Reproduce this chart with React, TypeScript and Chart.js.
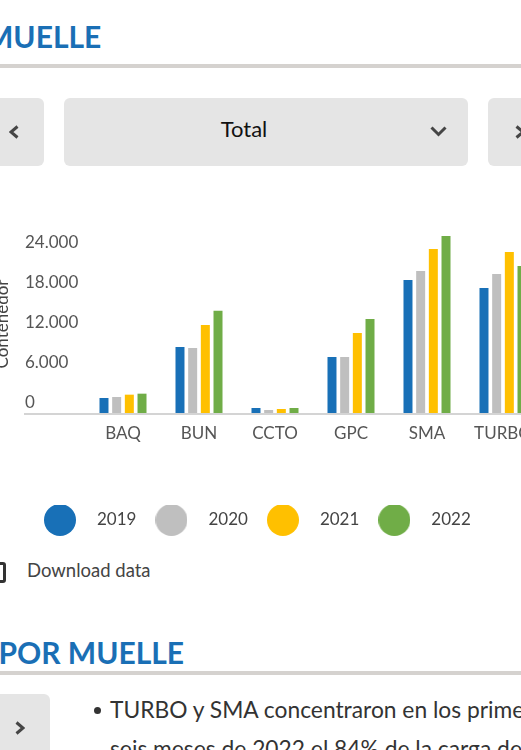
import React, { useEffect, useRef } from 'react';
import { Chart, registerables } from 'chart.js';

Chart.register(...registerables);

// ---- data ----
const categories = ['BAQ', 'BUN', 'CCTO', 'GPC', 'SMA', 'TURBO'];
const seriesNames = ['2019', '2020', '2021', '2022'];
const values2019 = [2400, 10050, 900, 8550, 20100, 18900];
const values2020 = [2550, 9900, 600, 8550, 21450, 21000];
const values2021 = [2900, 13350, 750, 12150, 24750, 24300];
const values2022 = [3050, 15500, 900, 14250, 26700, 22200];
const yTickValues = [0, 6000, 12000, 18000, 24000];
const yAxisTitle = 'Contenedor';

const seriesColors = ['#1870b7', '#bfbfbf', '#ffc000', '#70ad47'];
const FONT = 'Lato';

function fmt(v: number): string {
  return String(v).replace(/\B(?=(\d{3})+(?!\d))/g, '.');
}

function makeCircle(color: string, d: number): HTMLCanvasElement {
  const c = document.createElement('canvas');
  c.width = d;
  c.height = d;
  const g = c.getContext('2d')!;
  g.fillStyle = color;
  g.beginPath();
  g.arc(d / 2, d / 2, d / 2, 0, Math.PI * 2);
  g.fill();
  return c;
}

function Chevron({ left, top, w, h, points }: { left: number; top: number; w: number; h: number; points: string }) {
  return (
    <svg style={{ position: 'absolute', left, top }} width={w} height={h} viewBox={`0 0 ${w} ${h}`}>
      <polyline points={points} fill="none" stroke="#454545" strokeWidth={3} strokeLinejoin="miter" />
    </svg>
  );
}

function BarChart() {
  const ref = useRef<HTMLCanvasElement | null>(null);
  useEffect(() => {
    if (!ref.current) return;
    const seriesValues = [values2019, values2020, values2021, values2022];
    const circles = seriesColors.map((c) => makeCircle(c, 32));
    const chart = new Chart(ref.current, {
      type: 'bar',
      data: {
        labels: categories,
        datasets: seriesNames.map((name, i) => ({
          label: name,
          data: seriesValues[i],
          backgroundColor: seriesColors[i],
          borderWidth: 0,
          barPercentage: 0.71,
          categoryPercentage: 0.667,
        })),
      },
      options: {
        responsive: false,
        animation: false,
        layout: { padding: { left: 25, top: 34, right: 19, bottom: 11.5 } },
        plugins: {
          tooltip: { enabled: false },
          legend: {
            position: 'bottom',
            align: 'start',
            labels: {
              usePointStyle: true,
              pointStyleWidth: 57,
              padding: 6.5,
              color: '#444',
              font: { family: FONT, size: 17 },
              generateLabels: (ch: any) =>
                ch.data.datasets.map((ds: any, i: number) => ({
                  text: ds.label,
                  pointStyle: circles[i],
                  fillStyle: ds.backgroundColor,
                  strokeStyle: 'rgba(0,0,0,0)',
                  lineWidth: 0,
                  hidden: false,
                  datasetIndex: i,
                  fontColor: '#444',
                })),
            },
          },
        },
        scales: {
          x: {
            offset: true,
            grid: { display: false, drawTicks: false },
            border: { display: false },
            ticks: { padding: 9, color: '#555', font: { family: FONT, size: 17 } },
            afterFit: (s: any) => {
              s.height = 91;
            },
          },
          y: {
            min: 0,
            max: 27000,
            border: { display: false },
            grid: {
              drawTicks: true,
              tickLength: 61,
              lineWidth: 2,
              color: (c: any) => (c.tick && c.tick.value === 0 ? '#d4d4d4' : 'rgba(0,0,0,0)'),
            },
            afterBuildTicks: (s: any) => {
              s.ticks = yTickValues.map((v) => ({ value: v }));
            },
            ticks: {
              crossAlign: 'far',
              padding: 0,
              labelOffset: -11,
              color: '#555',
              font: { family: FONT, size: 17 },
              callback: (v: any) => fmt(Number(v)),
            },
            title: {
              display: true,
              text: yAxisTitle,
              color: '#444',
              font: { family: FONT, size: 17 },
              padding: { top: -32.7, bottom: 0 },
            },
            afterFit: (s: any) => {
              s.width = 60;
            },
          },
        },
      } as any,
    });
    return () => chart.destroy();
  }, []);
  return <canvas ref={ref} width={560} height={350} style={{ position: 'absolute', left: 0, top: 200 }} />;
}

export default function App() {
  const gray = '#e5e5e5';
  const rule = '#d5d2cf';
  const blue = '#1a6fb5';
  return (
    <div
      style={{
        position: 'absolute',
        left: 0,
        top: 0,
        width: 521,
        height: 750,
        overflow: 'hidden',
        background: '#fff',
        fontFamily: FONT,
      }}
    >
      <div style={{ position: 'absolute', left: -15, top: 18.4, fontSize: 30, lineHeight: 1.2, fontWeight: 700, color: blue, whiteSpace: 'nowrap' }}>
        MUELLE
      </div>
      <div style={{ position: 'absolute', left: 0, top: 64, width: 521, height: 4, background: rule }} />

      <div style={{ position: 'absolute', left: -24, top: 98, width: 68, height: 68, borderRadius: 6, background: gray }} />
      <Chevron left={9} top={125} w={10} h={14} points="8.5,1.5 2,7 8.5,12.5" />
      <div style={{ position: 'absolute', left: 64, top: 98, width: 404, height: 68, borderRadius: 6, background: gray }} />
      <div style={{ position: 'absolute', left: 64, top: 116.3, width: 360, textAlign: 'center', fontSize: 22, lineHeight: 1.2, color: '#111' }}>
        Total
      </div>
      <Chevron left={430} top={126} w={17} h={11} points="1.5,1.5 8.5,8.5 15.5,1.5" />
      <div style={{ position: 'absolute', left: 488, top: 98, width: 68, height: 68, borderRadius: 6, background: gray }} />
      <Chevron left={515} top={125} w={10} h={14} points="1.5,1.5 8,7 1.5,12.5" />

      <BarChart />

      <div style={{ position: 'absolute', left: -15, top: 562, width: 21, height: 21, boxSizing: 'border-box', border: '3px solid #333', borderRadius: 3 }} />
      <div style={{ position: 'absolute', left: 27, top: 559, fontSize: 18.5, lineHeight: 1.2, color: '#444', whiteSpace: 'nowrap' }}>
        Download data
      </div>

      <div style={{ position: 'absolute', left: -1.6, top: 633.7, fontSize: 30, lineHeight: 1.2, fontWeight: 700, color: blue, whiteSpace: 'nowrap' }}>
        POR MUELLE
      </div>
      <div style={{ position: 'absolute', left: 0, top: 671, width: 521, height: 4, background: rule }} />

      <div style={{ position: 'absolute', left: -18, top: 694, width: 68, height: 80, borderRadius: 6, background: gray }} />
      <Chevron left={15} top={721} w={10} h={14} points="1.5,1.5 8,7 1.5,12.5" />

      <div style={{ position: 'absolute', left: 93.5, top: 707, width: 7, height: 7, borderRadius: '50%', background: '#333' }} />
      <div style={{ position: 'absolute', left: 110, top: 690.3, fontSize: 22.8, lineHeight: '38.3px', color: '#333', whiteSpace: 'nowrap' }}>
        TURBO y SMA concentraron en los primeros
        <br />
        seis meses de 2022 el 84% de la carga de contenedores
      </div>
    </div>
  );
}
